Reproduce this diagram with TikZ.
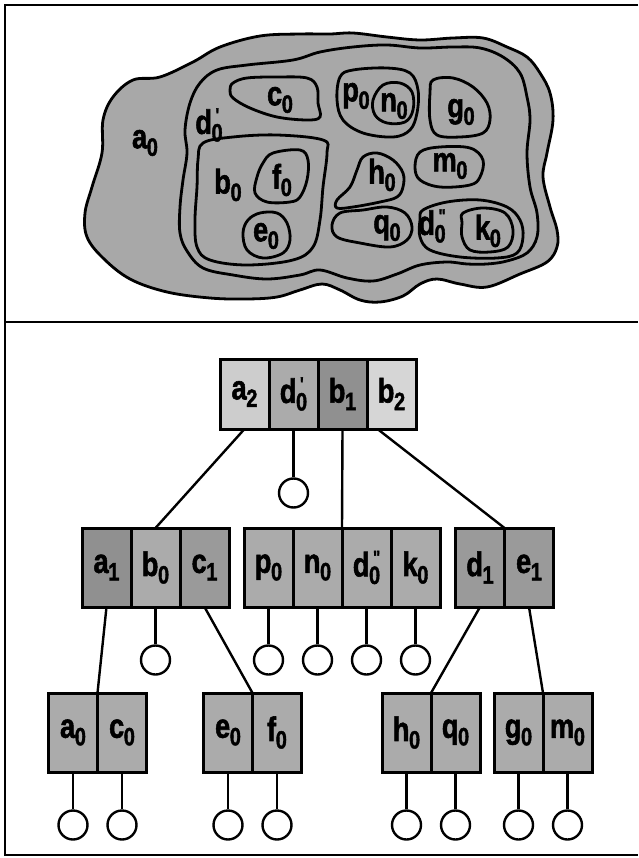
\documentclass[tikz,border=0pt]{standalone}
\usepackage{fontspec}
\setmainfont{Liberation Sans}
\newfontfamily\labfont{Liberation Sans}[BoldFeatures={FakeBold=1.8}]
\usepackage{graphicx}
\newcommand{\lbl}[2]{\scalebox{0.8}[1]{\labfont\bfseries\fontsize{34}{34}\selectfont #1\kern-0.5pt\raisebox{-7.5pt}{\fontsize{25}{25}\selectfont #2}}}
\newcommand{\lblp}[3]{\scalebox{0.8}[1]{\labfont\bfseries\fontsize{34}{34}\selectfont #1\kern-0.5pt\raisebox{-7.5pt}{\fontsize{25}{25}\selectfont\makebox[0pt][l]{\raisebox{20pt}{\kern5pt\fontsize{19}{19}\selectfont #3}}#2}}}
\definecolor{blobfill}{HTML}{A8A8A8}
\definecolor{lightc}{HTML}{CDCDCD}
\definecolor{lighterc}{HTML}{D6D6D6}
\definecolor{midc}{HTML}{ABABAB}
\definecolor{darkc}{HTML}{909090}
\definecolor{dkc}{HTML}{9A9A9A}
\tikzset{
  region/.style={fill=blobfill, draw=black, line width=2.8pt},
  cell/.style={draw=black, line width=3pt, minimum width=49pt, minimum height=79pt, inner sep=0pt, outer sep=0pt},
  leaf/.style={draw=black, line width=2.4pt, circle, minimum size=29pt, inner sep=0pt, fill=white},
  link/.style={line width=2.4pt},
  frame/.style={line width=2.6pt},
  lab/.style={inner sep=0pt}
}
\begin{document}
\begin{tikzpicture}[x=1pt,y=-1pt]
\useasboundingbox (0,0) rectangle (638,858);
% frame
\draw[frame] (638,5) -- (5,5) -- (5,855) -- (638,855);
\draw[frame] (5,322) -- (638,322);

% ---------- top panel ----------
\filldraw[region] plot[smooth cycle, tension=0.6] coordinates {
(193,62) (220,47) (260,36) (300,34) (330,34) (353,33) (387,37) (420,40) (453,38) (483,38) (507,47) (527,57) (540,73) (550,93) (553,120) (547,153) (543,177) (550,207) (557,230) (557,247) (547,262) (520,274) (487,287) (460,284) (437,279) (420,284) (403,296) (380,302) (360,300) (340,290) (322,284) (300,290) (277,297) (247,299) (210,298) (167,292) (130,279) (103,258) (87,237) (85,213) (92,187) (102,153) (103,120) (113,97) (133,80) (160,77)};
\filldraw[region] plot[smooth cycle, tension=0.6] coordinates {
(217,70) (247,65) (293,60) (320,52) (353,47) (387,45) (420,48) (453,47) (480,48) (503,57) (520,73) (527,97) (530,120) (527,153) (530,187) (537,213) (537,237) (527,253) (507,261) (487,264) (467,264) (447,262) (420,265) (397,274) (373,281) (347,278) (320,270) (300,275) (267,279) (233,275) (203,268) (187,251) (180,233) (180,207) (183,180) (187,153) (185,130) (190,103) (200,83)};
% c0
\filldraw[region] plot[smooth cycle, tension=0.6] coordinates {
(233,83) (247,78) (277,77) (307,78) (317,87) (318,103) (320,117) (307,120) (277,117) (250,108) (233,98) (230,90)};
% b0
\filldraw[region] plot[smooth cycle, tension=0.6] coordinates {
(203,143) (233,137) (277,135) (323,140) (327,153) (323,187) (320,220) (313,247) (293,260) (247,265) (210,260) (197,247) (195,220) (197,187) (198,160)};
% f0
\filldraw[region] plot[smooth cycle, tension=0.6] coordinates {
(273,153) (300,150) (308,160) (307,180) (300,197) (290,202) (267,202) (255,193) (257,177) (263,163)};
% e0
\filldraw[region] plot[smooth cycle, tension=0.6] coordinates {
(260,213) (277,213) (287,223) (290,240) (283,253) (263,258) (247,250) (243,233) (248,220)};
% p0
\filldraw[region] plot[smooth cycle, tension=0.6] coordinates {
(340,77) (353,70) (387,68) (410,73) (418,90) (417,113) (410,130) (393,137) (363,133) (343,120) (337,100)};
% n0
\filldraw[region] plot[smooth cycle, tension=0.6] coordinates {
(383,85) (400,83) (412,92) (413,110) (405,122) (387,123) (375,115) (373,100)};
% g0
\filldraw[region] plot[smooth cycle, tension=0.6] coordinates {
(433,80) (453,78) (473,87) (487,103) (490,120) (483,133) (460,137) (437,135) (430,120) (430,93)};
% h0
\filldraw[region] plot[smooth cycle, tension=0.6] coordinates {
(363,157) (377,153) (393,160) (403,173) (403,187) (397,197) (380,202) (353,207) (337,208) (337,200) (350,187) (357,170)};
% m0
\filldraw[region] plot[smooth cycle, tension=0.6] coordinates {
(420,152) (440,147) (470,148) (483,160) (480,177) (470,185) (440,187) (420,180) (415,167)};
% q0
\filldraw[region] plot[smooth cycle, tension=0.6] coordinates {
(340,213) (363,210) (387,207) (405,213) (412,227) (407,240) (390,247) (360,243) (337,237) (332,225)};
% d0''
\filldraw[region] plot[smooth cycle, tension=0.6] coordinates {
(423,210) (447,202) (480,200) (507,207) (520,220) (523,237) (517,253) (497,258) (460,257) (430,250) (420,237) (420,220)};
% k0
\filldraw[region] plot[smooth cycle, tension=0.6] coordinates {
(463,213) (483,208) (505,213) (513,230) (508,247) (490,252) (470,250) (462,237) (462,223)};

\node[lab] (ta0) at (145,143) {\lbl{a}{0}};
\node[lab] (td0p) at (209,125) {\lblp{d}{0}{\char"27}};
\node[lab] (tc0) at (280,100) {\lbl{c}{0}};
\node[lab] (tb0) at (228,185) {\lbl{b}{0}};
\node[lab] (tf0) at (282,180) {\lbl{f}{0}};
\node[lab] (te0) at (266,236) {\lbl{e}{0}};
\node[lab] (tp0) at (356,96) {\lbl{p}{0}};
\node[lab] (tn0) at (394,106) {\lbl{n}{0}};
\node[lab] (tg0) at (461,112) {\lbl{g}{0}};
\node[lab] (th0) at (382,175) {\lbl{h}{0}};
\node[lab] (tm0) at (450,166) {\lbl{m}{0}};
\node[lab] (tq0) at (387,228) {\lbl{q}{0}};
\node[lab] (td0pp) at (432,226) {\lblp{d}{0}{\char"22}};
\node[lab] (tk0) at (488,231) {\lbl{k}{0}};

% ---------- tree ----------
% root
\node[cell, fill=lightc, minimum height=70pt] (a2) at (244.5,394) {\lbl{a}{2}};
\node[cell, fill=midc, minimum height=70pt] (d0p) at (293.5,394) {\lblp{d}{0}{\char"27}};
\node[cell, fill=darkc, minimum height=70pt] (b1) at (342.5,394) {\lbl{b}{1}};
\node[cell, fill=lighterc, minimum height=70pt] (b2) at (391.5,394) {\lbl{b}{2}};
% middle row
\node[cell, fill=darkc] (a1) at (106.5,567.5) {\lbl{a}{1}};
\node[cell, fill=midc] (b0) at (155.5,567.5) {\lbl{b}{0}};
\node[cell, fill=dkc] (c1) at (204.5,567.5) {\lbl{c}{1}};
\node[cell, fill=midc] (p0) at (268.5,567.5) {\lbl{p}{0}};
\node[cell, fill=midc] (n0) at (317.5,567.5) {\lbl{n}{0}};
\node[cell, fill=midc] (d0pp) at (366.5,567.5) {\lblp{d}{0}{\char"22}};
\node[cell, fill=midc] (k0) at (415.5,567.5) {\lbl{k}{0}};
\node[cell, fill=dkc] (d1) at (480,567.5) {\lbl{d}{1}};
\node[cell, fill=dkc] (e1) at (529,567.5) {\lbl{e}{1}};
% bottom row
\node[cell, fill=midc] (a0) at (73,732.5) {\lbl{a}{0}};
\node[cell, fill=midc] (c0) at (122,732.5) {\lbl{c}{0}};
\node[cell, fill=midc] (e0) at (228,732.5) {\lbl{e}{0}};
\node[cell, fill=midc] (f0) at (277,732.5) {\lbl{f}{0}};
\node[cell, fill=midc] (h0) at (406.5,732.5) {\lbl{h}{0}};
\node[cell, fill=midc] (q0) at (455.5,732.5) {\lbl{q}{0}};
\node[cell, fill=midc] (g0) at (518.5,732.5) {\lbl{g}{0}};
\node[cell, fill=midc] (m0) at (567.5,732.5) {\lbl{m}{0}};

% leaves (null pointers)
\node[leaf] (ld0p) at (293.5,493) {};
\node[leaf] (lb0) at (155.5,660) {};
\node[leaf] (lp0) at (268.5,660) {};
\node[leaf] (ln0) at (317.5,660) {};
\node[leaf] (ld0pp) at (366.5,660) {};
\node[leaf] (lk0) at (415.5,660) {};
\foreach \n/\x in {a0/73,c0/122,e0/228,f0/277,h0/406.5,q0/455.5,g0/518.5,m0/567.5}
  \node[leaf] (l\n) at (\x,825) {};

% connectors
\draw[link] (a2.south) -- (b0.north);
\draw[link] (d0p.south) -- (ld0p.north);
\draw[link] (b1.south) -- (n0.north east);
\draw[link] ([xshift=-14pt]b2.south) -- (d1.north east);
\draw[link] (a1.south) -- (a0.north east);
\draw[link] (b0.south) -- (lb0.north);
\draw[link] (c1.south) -- (e0.north east);
\draw[link] (p0.south) -- (lp0.north);
\draw[link] (n0.south) -- (ln0.north);
\draw[link] (d0pp.south) -- (ld0pp.north);
\draw[link] (k0.south) -- (lk0.north);
\draw[link] (d1.south) -- (h0.north east);
\draw[link] (e1.south) -- (g0.north east);
\foreach \n in {a0,c0,e0,f0,h0,q0,g0,m0}
  \draw[link] (\n.south) -- (l\n.north);
\end{tikzpicture}
\end{document}
